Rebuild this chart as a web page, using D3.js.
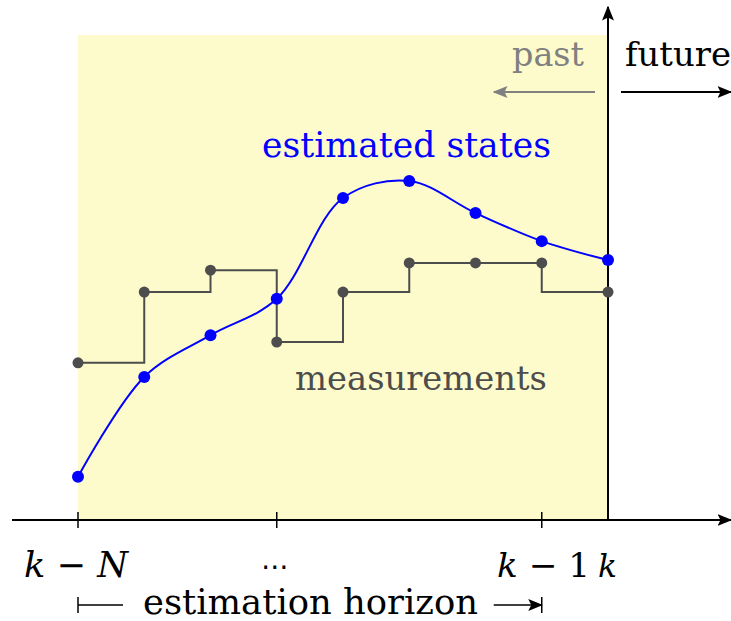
<!DOCTYPE html>
<html><head><meta charset="utf-8">
<script src="https://cdn.jsdelivr.net/npm/d3@7"></script>
<style>body{margin:0;background:#fff}svg{display:block}text{font-family:"DejaVu Serif",serif}</style>
</head><body>
<svg id="c" width="731" height="621"></svg>
<script>
// data
const steps = [0,1,2,3,4,5,6,7,8];
const estimatedStates = [0.89,2.95,3.81,4.56,6.64,6.99,6.33,5.75,5.36];
const measurements = [3.24,4.70,5.15,3.67,4.70,5.30,5.30,5.30,4.70];
const tickSteps = [0,3,7,8];
const tickLabels = ["k − N","⋯","k − 1","k"];

const svg = d3.select("#c");
const x = d3.scaleLinear().domain([0,8]).range([78,608]);
const y = d3.scaleLinear().domain([0,10]).range([520,35]);

const defs = svg.append("defs");
function marker(id,color){
  defs.append("marker").attr("id",id).attr("viewBox","0 0 10 10").attr("refX",9).attr("refY",5)
   .attr("markerUnits","userSpaceOnUse").attr("orient","auto")
   .attr("markerWidth",15).attr("markerHeight",15)
   .append("path").attr("d","M0,1 L10,5 L0,9 L2,5 Z").attr("fill",color);
}
marker("ab","#000"); marker("ag","#808080");

function fit(t, w){
  const base=+t.attr("font-size");
  const len=t.node().getComputedTextLength();
  t.attr("font-size", base*w/len);
  return t;
}

// shaded horizon
svg.append("rect").attr("x",x(0)).attr("y",y(10)).attr("width",x(8)-x(0)).attr("height",y(0)-y(10)).attr("fill","#fdfbcc");

// axes
svg.append("line").attr("x1",12).attr("x2",731).attr("y1",y(0)).attr("y2",y(0)).attr("stroke","#000").attr("stroke-width",2).attr("marker-end","url(#ab)");
svg.append("line").attr("x1",x(8)).attr("x2",x(8)).attr("y1",y(0)).attr("y2",7).attr("stroke","#000").attr("stroke-width",2).attr("marker-end","url(#ab)");
svg.selectAll("line.tick").data(tickSteps.slice(0,3)).enter().append("line").attr("class","tick")
  .attr("x1",d=>x(d)).attr("x2",d=>x(d)).attr("y1",y(0)-8).attr("y2",y(0)+8).attr("stroke","#000").attr("stroke-width",1.5);

// measurement step line
const mpts=[];
for(let i=0;i<steps.length-1;i++){
  mpts.push([x(steps[i]),y(measurements[i])]);
  if(i<steps.length-2) mpts.push([x(steps[i+1]),y(measurements[i])]);
  else mpts.push([x(steps[i]),y(measurements[i+1])]);
}
mpts.push([x(steps[steps.length-1]),y(measurements[steps.length-1])]);
svg.append("path").attr("d",d3.line()(mpts)).attr("fill","none").attr("stroke","#4d4d4d").attr("stroke-width",2);

// estimated states curve
svg.append("path").attr("d",d3.line().x((d,i)=>x(steps[i])).y(d=>y(d)).curve(d3.curveCatmullRom.alpha(0.5))(estimatedStates))
  .attr("fill","none").attr("stroke","#0000ff").attr("stroke-width",2);

svg.selectAll("circle.m").data(measurements).enter().append("circle").attr("class","m")
  .attr("cx",(d,i)=>x(steps[i])).attr("cy",d=>y(d)).attr("r",5.5).attr("fill","#4d4d4d");
svg.selectAll("circle.e").data(estimatedStates).enter().append("circle").attr("class","e")
  .attr("cx",(d,i)=>x(steps[i])).attr("cy",d=>y(d)).attr("r",6).attr("fill","#0000ff");

// tick labels
const fs=32;
const tickCenters=[76, 275, 543.5, 607.5];
const tickWidths=[104, 28, 93, 19];
tickLabels.forEach((lab,j)=>{
  const t=svg.append("text").attr("y",577).attr("font-size",fs).attr("fill","#000").attr("text-anchor","middle").attr("x",tickCenters[j]);
  if(lab==="k"){ t.append("tspan").attr("font-style","italic").text("k"); }
  else if(lab==="⋯"){ t.attr("y",576).style("font-family","'DejaVu Sans',sans-serif").text(lab); }
  else {
    const parts=lab.split(" ");
    t.append("tspan").attr("font-style","italic").text(parts[0]);
    t.append("tspan").text(" "+parts[1]+" ");
    const p=t.append("tspan").text(parts[2]);
    if(parts[2]==="N") p.attr("font-style","italic");
  }
  fit(t, tickWidths[j]);
});

// estimation horizon
const hy=605;
svg.append("line").attr("x1",x(0)).attr("x2",x(0)).attr("y1",hy-8).attr("y2",hy+8).attr("stroke","#000").attr("stroke-width",1.5);
svg.append("line").attr("x1",x(0)).attr("x2",x(0)+45).attr("y1",hy).attr("y2",hy).attr("stroke","#000").attr("stroke-width",1.5);
fit(svg.append("text").attr("x",310.5).attr("y",hy+9).attr("text-anchor","middle").attr("font-size",fs).text("estimation horizon"),335);
svg.append("line").attr("x1",x(7)-48).attr("x2",x(7)).attr("y1",hy).attr("y2",hy).attr("stroke","#000").attr("stroke-width",1.5).attr("marker-end","url(#ab)");
svg.append("line").attr("x1",x(7)).attr("x2",x(7)).attr("y1",hy-8).attr("y2",hy+8).attr("stroke","#000").attr("stroke-width",1.5);

// past/future
fit(svg.append("text").attr("x",548).attr("y",66).attr("text-anchor","middle").attr("font-size",fs).attr("fill","#808080").text("past"),72);
fit(svg.append("text").attr("x",625).attr("y",66).attr("font-size",fs).attr("fill","#000").text("future"),106);
svg.append("line").attr("x1",595).attr("x2",494).attr("y1",92).attr("y2",92).attr("stroke","#808080").attr("stroke-width",2).attr("marker-end","url(#ag)");
svg.append("line").attr("x1",621).attr("x2",731).attr("y1",92).attr("y2",92).attr("stroke","#000").attr("stroke-width",2).attr("marker-end","url(#ab)");

// series labels
fit(svg.append("text").attr("x",406.5).attr("y",157).attr("text-anchor","middle").attr("font-size",fs).attr("fill","#0000ff").text("estimated states"),289);
fit(svg.append("text").attr("x",421).attr("y",390).attr("text-anchor","middle").attr("font-size",fs).attr("fill","#4d4d4d").text("measurements"),252);
</script>
</body></html>
